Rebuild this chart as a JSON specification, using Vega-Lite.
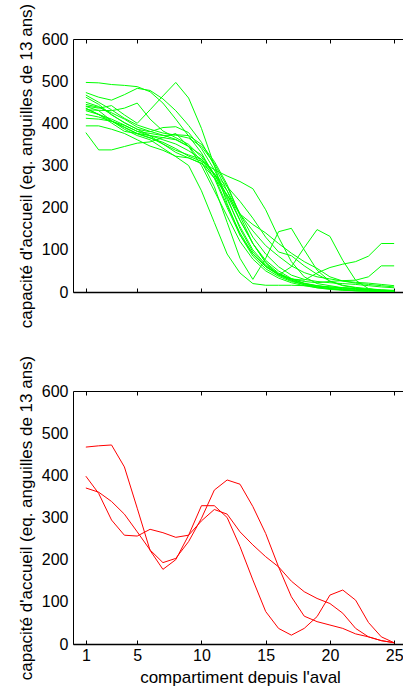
{
"$schema":"https://vega.github.io/schema/vega-lite/v6.json",
"autosize":{"type":"none"},
"padding":{"left":73,"top":39,"right":330,"bottom":649},
"background":"white",
"bounds":"flush",
"spacing":99,
"config":{
 "view":{"stroke":"black","strokeWidth":1},
 "font":"Liberation Sans",
 "axis":{"labelFont":"Liberation Sans","titleFont":"Liberation Sans","labelFontSize":16,"titleFontSize":17,"titleFontWeight":"normal","labelColor":"black","titleColor":"black","grid":false,"domainColor":"black","tickColor":"black"}
},
"datasets":{
"green":[
{"s":1,"k":1,"v":497},{"s":1,"k":2,"v":496},{"s":1,"k":3,"v":492},{"s":1,"k":4,"v":490},{"s":1,"k":5,"v":487},{"s":1,"k":6,"v":475},{"s":1,"k":7,"v":448},{"s":1,"k":8,"v":410},{"s":1,"k":9,"v":370},{"s":1,"k":10,"v":330},{"s":1,"k":11,"v":275},{"s":1,"k":12,"v":205},{"s":1,"k":13,"v":140},{"s":1,"k":14,"v":90},{"s":1,"k":15,"v":60},{"s":1,"k":16,"v":40},{"s":1,"k":17,"v":27},{"s":1,"k":18,"v":17},{"s":1,"k":19,"v":10},{"s":1,"k":20,"v":6},{"s":1,"k":21,"v":4},{"s":1,"k":22,"v":3},{"s":1,"k":23,"v":2},{"s":1,"k":24,"v":2},{"s":1,"k":25,"v":1},
{"s":2,"k":1,"v":473},{"s":2,"k":2,"v":462},{"s":2,"k":3,"v":455},{"s":2,"k":4,"v":468},{"s":2,"k":5,"v":483},{"s":2,"k":6,"v":478},{"s":2,"k":7,"v":458},{"s":2,"k":8,"v":430},{"s":2,"k":9,"v":395},{"s":2,"k":10,"v":355},{"s":2,"k":11,"v":300},{"s":2,"k":12,"v":240},{"s":2,"k":13,"v":170},{"s":2,"k":14,"v":115},{"s":2,"k":15,"v":75},{"s":2,"k":16,"v":50},{"s":2,"k":17,"v":32},{"s":2,"k":18,"v":20},{"s":2,"k":19,"v":12},{"s":2,"k":20,"v":8},{"s":2,"k":21,"v":5},{"s":2,"k":22,"v":3},{"s":2,"k":23,"v":2},{"s":2,"k":24,"v":1},{"s":2,"k":25,"v":1},
{"s":3,"k":1,"v":441},{"s":3,"k":2,"v":436},{"s":3,"k":3,"v":442},{"s":3,"k":4,"v":420},{"s":3,"k":5,"v":400},{"s":3,"k":6,"v":432},{"s":3,"k":7,"v":465},{"s":3,"k":8,"v":497},{"s":3,"k":9,"v":460},{"s":3,"k":10,"v":388},{"s":3,"k":11,"v":300},{"s":3,"k":12,"v":210},{"s":3,"k":13,"v":135},{"s":3,"k":14,"v":85},{"s":3,"k":15,"v":55},{"s":3,"k":16,"v":37},{"s":3,"k":17,"v":25},{"s":3,"k":18,"v":18},{"s":3,"k":19,"v":12},{"s":3,"k":20,"v":8},{"s":3,"k":21,"v":5},{"s":3,"k":22,"v":3},{"s":3,"k":23,"v":2},{"s":3,"k":24,"v":1},{"s":3,"k":25,"v":1},
{"s":4,"k":1,"v":467},{"s":4,"k":2,"v":450},{"s":4,"k":3,"v":432},{"s":4,"k":4,"v":412},{"s":4,"k":5,"v":396},{"s":4,"k":6,"v":386},{"s":4,"k":7,"v":377},{"s":4,"k":8,"v":372},{"s":4,"k":9,"v":365},{"s":4,"k":10,"v":345},{"s":4,"k":11,"v":305},{"s":4,"k":12,"v":250},{"s":4,"k":13,"v":185},{"s":4,"k":14,"v":130},{"s":4,"k":15,"v":90},{"s":4,"k":16,"v":60},{"s":4,"k":17,"v":40},{"s":4,"k":18,"v":30},{"s":4,"k":19,"v":25},{"s":4,"k":20,"v":22},{"s":4,"k":21,"v":20},{"s":4,"k":22,"v":18},{"s":4,"k":23,"v":15},{"s":4,"k":24,"v":12},{"s":4,"k":25,"v":10},
{"s":5,"k":1,"v":462},{"s":5,"k":2,"v":445},{"s":5,"k":3,"v":420},{"s":5,"k":4,"v":402},{"s":5,"k":5,"v":386},{"s":5,"k":6,"v":380},{"s":5,"k":7,"v":390},{"s":5,"k":8,"v":392},{"s":5,"k":9,"v":378},{"s":5,"k":10,"v":340},{"s":5,"k":11,"v":290},{"s":5,"k":12,"v":225},{"s":5,"k":13,"v":150},{"s":5,"k":14,"v":95},{"s":5,"k":15,"v":62},{"s":5,"k":16,"v":42},{"s":5,"k":17,"v":28},{"s":5,"k":18,"v":20},{"s":5,"k":19,"v":15},{"s":5,"k":20,"v":12},{"s":5,"k":21,"v":10},{"s":5,"k":22,"v":8},{"s":5,"k":23,"v":6},{"s":5,"k":24,"v":5},{"s":5,"k":25,"v":4},
{"s":6,"k":1,"v":436},{"s":6,"k":2,"v":421},{"s":6,"k":3,"v":410},{"s":6,"k":4,"v":396},{"s":6,"k":5,"v":381},{"s":6,"k":6,"v":376},{"s":6,"k":7,"v":371},{"s":6,"k":8,"v":373},{"s":6,"k":9,"v":371},{"s":6,"k":10,"v":350},{"s":6,"k":11,"v":310},{"s":6,"k":12,"v":255},{"s":6,"k":13,"v":180},{"s":6,"k":14,"v":115},{"s":6,"k":15,"v":70},{"s":6,"k":16,"v":45},{"s":6,"k":17,"v":30},{"s":6,"k":18,"v":21},{"s":6,"k":19,"v":15},{"s":6,"k":20,"v":10},{"s":6,"k":21,"v":8},{"s":6,"k":22,"v":6},{"s":6,"k":23,"v":5},{"s":6,"k":24,"v":4},{"s":6,"k":25,"v":3},
{"s":7,"k":1,"v":432},{"s":7,"k":2,"v":431},{"s":7,"k":3,"v":430},{"s":7,"k":4,"v":436},{"s":7,"k":5,"v":448},{"s":7,"k":6,"v":410},{"s":7,"k":7,"v":382},{"s":7,"k":8,"v":366},{"s":7,"k":9,"v":350},{"s":7,"k":10,"v":320},{"s":7,"k":11,"v":280},{"s":7,"k":12,"v":250},{"s":7,"k":13,"v":215},{"s":7,"k":14,"v":175},{"s":7,"k":15,"v":130},{"s":7,"k":16,"v":95},{"s":7,"k":17,"v":86},{"s":7,"k":18,"v":62},{"s":7,"k":19,"v":42},{"s":7,"k":20,"v":26},{"s":7,"k":21,"v":16},{"s":7,"k":22,"v":11},{"s":7,"k":23,"v":8},{"s":7,"k":24,"v":5},{"s":7,"k":25,"v":3},
{"s":8,"k":1,"v":421},{"s":8,"k":2,"v":415},{"s":8,"k":3,"v":405},{"s":8,"k":4,"v":390},{"s":8,"k":5,"v":375},{"s":8,"k":6,"v":365},{"s":8,"k":7,"v":355},{"s":8,"k":8,"v":340},{"s":8,"k":9,"v":322},{"s":8,"k":10,"v":310},{"s":8,"k":11,"v":290},{"s":8,"k":12,"v":275},{"s":8,"k":13,"v":262},{"s":8,"k":14,"v":245},{"s":8,"k":15,"v":195},{"s":8,"k":16,"v":130},{"s":8,"k":17,"v":72},{"s":8,"k":18,"v":36},{"s":8,"k":19,"v":20},{"s":8,"k":20,"v":15},{"s":8,"k":21,"v":10},{"s":8,"k":22,"v":8},{"s":8,"k":23,"v":5},{"s":8,"k":24,"v":3},{"s":8,"k":25,"v":2},
{"s":9,"k":1,"v":412},{"s":9,"k":2,"v":410},{"s":9,"k":3,"v":405},{"s":9,"k":4,"v":395},{"s":9,"k":5,"v":381},{"s":9,"k":6,"v":370},{"s":9,"k":7,"v":351},{"s":9,"k":8,"v":331},{"s":9,"k":9,"v":318},{"s":9,"k":10,"v":305},{"s":9,"k":11,"v":280},{"s":9,"k":12,"v":240},{"s":9,"k":13,"v":185},{"s":9,"k":14,"v":160},{"s":9,"k":15,"v":140},{"s":9,"k":16,"v":115},{"s":9,"k":17,"v":92},{"s":9,"k":18,"v":72},{"s":9,"k":19,"v":56},{"s":9,"k":20,"v":36},{"s":9,"k":21,"v":26},{"s":9,"k":22,"v":21},{"s":9,"k":23,"v":18},{"s":9,"k":24,"v":15},{"s":9,"k":25,"v":12},
{"s":10,"k":1,"v":394},{"s":10,"k":2,"v":394},{"s":10,"k":3,"v":386},{"s":10,"k":4,"v":376},{"s":10,"k":5,"v":361},{"s":10,"k":6,"v":346},{"s":10,"k":7,"v":336},{"s":10,"k":8,"v":322},{"s":10,"k":9,"v":318},{"s":10,"k":10,"v":305},{"s":10,"k":11,"v":270},{"s":10,"k":12,"v":230},{"s":10,"k":13,"v":185},{"s":10,"k":14,"v":145},{"s":10,"k":15,"v":110},{"s":10,"k":16,"v":85},{"s":10,"k":17,"v":62},{"s":10,"k":18,"v":46},{"s":10,"k":19,"v":36},{"s":10,"k":20,"v":31},{"s":10,"k":21,"v":26},{"s":10,"k":22,"v":23},{"s":10,"k":23,"v":21},{"s":10,"k":24,"v":18},{"s":10,"k":25,"v":15},
{"s":11,"k":1,"v":378},{"s":11,"k":2,"v":337},{"s":11,"k":3,"v":337},{"s":11,"k":4,"v":345},{"s":11,"k":5,"v":353},{"s":11,"k":6,"v":356},{"s":11,"k":7,"v":366},{"s":11,"k":8,"v":376},{"s":11,"k":9,"v":345},{"s":11,"k":10,"v":300},{"s":11,"k":11,"v":240},{"s":11,"k":12,"v":180},{"s":11,"k":13,"v":120},{"s":11,"k":14,"v":78},{"s":11,"k":15,"v":50},{"s":11,"k":16,"v":33},{"s":11,"k":17,"v":22},{"s":11,"k":18,"v":15},{"s":11,"k":19,"v":10},{"s":11,"k":20,"v":8},{"s":11,"k":21,"v":6},{"s":11,"k":22,"v":5},{"s":11,"k":23,"v":4},{"s":11,"k":24,"v":3},{"s":11,"k":25,"v":2},
{"s":12,"k":1,"v":440},{"s":12,"k":2,"v":430},{"s":12,"k":3,"v":406},{"s":12,"k":4,"v":386},{"s":12,"k":5,"v":371},{"s":12,"k":6,"v":361},{"s":12,"k":7,"v":341},{"s":12,"k":8,"v":321},{"s":12,"k":9,"v":300},{"s":12,"k":10,"v":240},{"s":12,"k":11,"v":165},{"s":12,"k":12,"v":90},{"s":12,"k":13,"v":45},{"s":12,"k":14,"v":20},{"s":12,"k":15,"v":16},{"s":12,"k":16,"v":16},{"s":12,"k":17,"v":16},{"s":12,"k":18,"v":15},{"s":12,"k":19,"v":14},{"s":12,"k":20,"v":12},{"s":12,"k":21,"v":10},{"s":12,"k":22,"v":8},{"s":12,"k":23,"v":5},{"s":12,"k":24,"v":3},{"s":12,"k":25,"v":2},
{"s":13,"k":1,"v":445},{"s":13,"k":2,"v":438},{"s":13,"k":3,"v":425},{"s":13,"k":4,"v":410},{"s":13,"k":5,"v":391},{"s":13,"k":6,"v":381},{"s":13,"k":7,"v":372},{"s":13,"k":8,"v":362},{"s":13,"k":9,"v":346},{"s":13,"k":10,"v":310},{"s":13,"k":11,"v":250},{"s":13,"k":12,"v":165},{"s":13,"k":13,"v":80},{"s":13,"k":14,"v":30},{"s":13,"k":15,"v":80},{"s":13,"k":16,"v":143},{"s":13,"k":17,"v":151},{"s":13,"k":18,"v":100},{"s":13,"k":19,"v":52},{"s":13,"k":20,"v":25},{"s":13,"k":21,"v":15},{"s":13,"k":22,"v":10},{"s":13,"k":23,"v":6},{"s":13,"k":24,"v":4},{"s":13,"k":25,"v":3},
{"s":14,"k":1,"v":430},{"s":14,"k":2,"v":421},{"s":14,"k":3,"v":406},{"s":14,"k":4,"v":391},{"s":14,"k":5,"v":376},{"s":14,"k":6,"v":366},{"s":14,"k":7,"v":351},{"s":14,"k":8,"v":336},{"s":14,"k":9,"v":325},{"s":14,"k":10,"v":315},{"s":14,"k":11,"v":280},{"s":14,"k":12,"v":230},{"s":14,"k":13,"v":170},{"s":14,"k":14,"v":115},{"s":14,"k":15,"v":70},{"s":14,"k":16,"v":40},{"s":14,"k":17,"v":60},{"s":14,"k":18,"v":105},{"s":14,"k":19,"v":148},{"s":14,"k":20,"v":132},{"s":14,"k":21,"v":75},{"s":14,"k":22,"v":28},{"s":14,"k":23,"v":8},{"s":14,"k":24,"v":3},{"s":14,"k":25,"v":2},
{"s":15,"k":1,"v":435},{"s":15,"k":2,"v":421},{"s":15,"k":3,"v":401},{"s":15,"k":4,"v":381},{"s":15,"k":5,"v":376},{"s":15,"k":6,"v":371},{"s":15,"k":7,"v":361},{"s":15,"k":8,"v":351},{"s":15,"k":9,"v":335},{"s":15,"k":10,"v":315},{"s":15,"k":11,"v":270},{"s":15,"k":12,"v":200},{"s":15,"k":13,"v":135},{"s":15,"k":14,"v":90},{"s":15,"k":15,"v":60},{"s":15,"k":16,"v":42},{"s":15,"k":17,"v":31},{"s":15,"k":18,"v":28},{"s":15,"k":19,"v":45},{"s":15,"k":20,"v":58},{"s":15,"k":21,"v":66},{"s":15,"k":22,"v":72},{"s":15,"k":23,"v":85},{"s":15,"k":24,"v":115},{"s":15,"k":25,"v":115},
{"s":16,"k":1,"v":450},{"s":16,"k":2,"v":440},{"s":16,"k":3,"v":421},{"s":16,"k":4,"v":401},{"s":16,"k":5,"v":386},{"s":16,"k":6,"v":371},{"s":16,"k":7,"v":366},{"s":16,"k":8,"v":361},{"s":16,"k":9,"v":345},{"s":16,"k":10,"v":325},{"s":16,"k":11,"v":280},{"s":16,"k":12,"v":220},{"s":16,"k":13,"v":155},{"s":16,"k":14,"v":100},{"s":16,"k":15,"v":65},{"s":16,"k":16,"v":43},{"s":16,"k":17,"v":31},{"s":16,"k":18,"v":25},{"s":16,"k":19,"v":22},{"s":16,"k":20,"v":25},{"s":16,"k":21,"v":27},{"s":16,"k":22,"v":28},{"s":16,"k":23,"v":36},{"s":16,"k":24,"v":62},{"s":16,"k":25,"v":62}
],
"red":[
{"s":1,"k":1,"v":467},{"s":1,"k":2,"v":470},{"s":1,"k":3,"v":472},{"s":1,"k":4,"v":420},{"s":1,"k":5,"v":322},{"s":1,"k":6,"v":222},{"s":1,"k":7,"v":177},{"s":1,"k":8,"v":200},{"s":1,"k":9,"v":258},{"s":1,"k":10,"v":328},{"s":1,"k":11,"v":328},{"s":1,"k":12,"v":300},{"s":1,"k":13,"v":231},{"s":1,"k":14,"v":152},{"s":1,"k":15,"v":77},{"s":1,"k":16,"v":37},{"s":1,"k":17,"v":21},{"s":1,"k":18,"v":37},{"s":1,"k":19,"v":65},{"s":1,"k":20,"v":116},{"s":1,"k":21,"v":128},{"s":1,"k":22,"v":104},{"s":1,"k":23,"v":51},{"s":1,"k":24,"v":17},{"s":1,"k":25,"v":3},
{"s":2,"k":1,"v":398},{"s":2,"k":2,"v":357},{"s":2,"k":3,"v":294},{"s":2,"k":4,"v":258},{"s":2,"k":5,"v":256},{"s":2,"k":6,"v":272},{"s":2,"k":7,"v":264},{"s":2,"k":8,"v":253},{"s":2,"k":9,"v":258},{"s":2,"k":10,"v":292},{"s":2,"k":11,"v":319},{"s":2,"k":12,"v":308},{"s":2,"k":13,"v":266},{"s":2,"k":14,"v":235},{"s":2,"k":15,"v":207},{"s":2,"k":16,"v":183},{"s":2,"k":17,"v":149},{"s":2,"k":18,"v":124},{"s":2,"k":19,"v":108},{"s":2,"k":20,"v":96},{"s":2,"k":21,"v":73},{"s":2,"k":22,"v":37},{"s":2,"k":23,"v":17},{"s":2,"k":24,"v":8},{"s":2,"k":25,"v":3},
{"s":3,"k":1,"v":370},{"s":3,"k":2,"v":360},{"s":3,"k":3,"v":338},{"s":3,"k":4,"v":308},{"s":3,"k":5,"v":266},{"s":3,"k":6,"v":223},{"s":3,"k":7,"v":193},{"s":3,"k":8,"v":203},{"s":3,"k":9,"v":243},{"s":3,"k":10,"v":298},{"s":3,"k":11,"v":365},{"s":3,"k":12,"v":389},{"s":3,"k":13,"v":379},{"s":3,"k":14,"v":326},{"s":3,"k":15,"v":262},{"s":3,"k":16,"v":183},{"s":3,"k":17,"v":112},{"s":3,"k":18,"v":66},{"s":3,"k":19,"v":53},{"s":3,"k":20,"v":45},{"s":3,"k":21,"v":37},{"s":3,"k":22,"v":24},{"s":3,"k":23,"v":17},{"s":3,"k":24,"v":8},{"s":3,"k":25,"v":3}
]
},
"vconcat":[
{
 "width":334,"height":253,
 "resolve":{"axis":{"x":"independent","y":"independent"}},
 "layer":[
  {"data":{"name":"green"},
   "mark":{"type":"line","color":"#00ff00","strokeWidth":1,"clip":true},
   "encoding":{
    "x":{"field":"k","type":"quantitative","scale":{"domain":[0,26],"nice":false,"zero":false},
         "axis":{"values":[1,5,10,15,20,25],"labels":false,"title":null,"tickSize":-4,"domain":true,"domainWidth":1.5}},
    "y":{"field":"v","type":"quantitative","scale":{"domain":[0,600],"nice":false},
         "axis":{"values":[0,100,200,300,400,500,600],"ticks":false,"tickSize":0,"domain":false,"labelPadding":5,"titlePadding":6,"title":"capacité d'accueil (eq. anguilles de 13 ans)"}},
    "detail":{"field":"s","type":"nominal"}
   }},
  {"mark":{"type":"text","align":"left","baseline":"middle","fontSize":17,"dx":-3,"color":"black"},
   "encoding":{
    "x":{"datum":1,"type":"quantitative","axis":{"orient":"top","values":[1,5,10,15,20,25],"labels":false,"title":null,"tickSize":-4,"domain":false}},
    "y":{"datum":500,"type":"quantitative","axis":null},
    "text":{"value":"a)"}
   }}
 ]
},
{
 "width":334,"height":253,
 "resolve":{"axis":{"x":"independent","y":"independent"}},
 "layer":[
  {"data":{"name":"red"},
   "mark":{"type":"line","color":"#ff0000","strokeWidth":1,"clip":true},
   "encoding":{
    "x":{"field":"k","type":"quantitative","scale":{"domain":[0,26],"nice":false,"zero":false},
         "axis":{"values":[1,5,10,15,20,25],"title":"compartiment depuis l'aval","tickSize":-4,"domain":true,"domainWidth":1.5,"labelPadding":7,"titlePadding":6}},
    "y":{"field":"v","type":"quantitative","scale":{"domain":[0,600],"nice":false},
         "axis":{"values":[0,100,200,300,400,500,600],"ticks":false,"tickSize":0,"domain":false,"labelPadding":5,"titlePadding":6,"title":"capacité d'accueil (eq. anguilles de 13 ans)"}},
    "detail":{"field":"s","type":"nominal"}
   }},
  {"mark":{"type":"text","align":"left","baseline":"middle","fontSize":17,"dx":-3,"color":"black"},
   "encoding":{
    "x":{"datum":1,"type":"quantitative","axis":{"orient":"top","values":[1,5,10,15,20,25],"labels":false,"title":null,"tickSize":-4,"domain":false}},
    "y":{"datum":500,"type":"quantitative","axis":null},
    "text":{"value":"b)"}
   }}
 ]
}
]
}
